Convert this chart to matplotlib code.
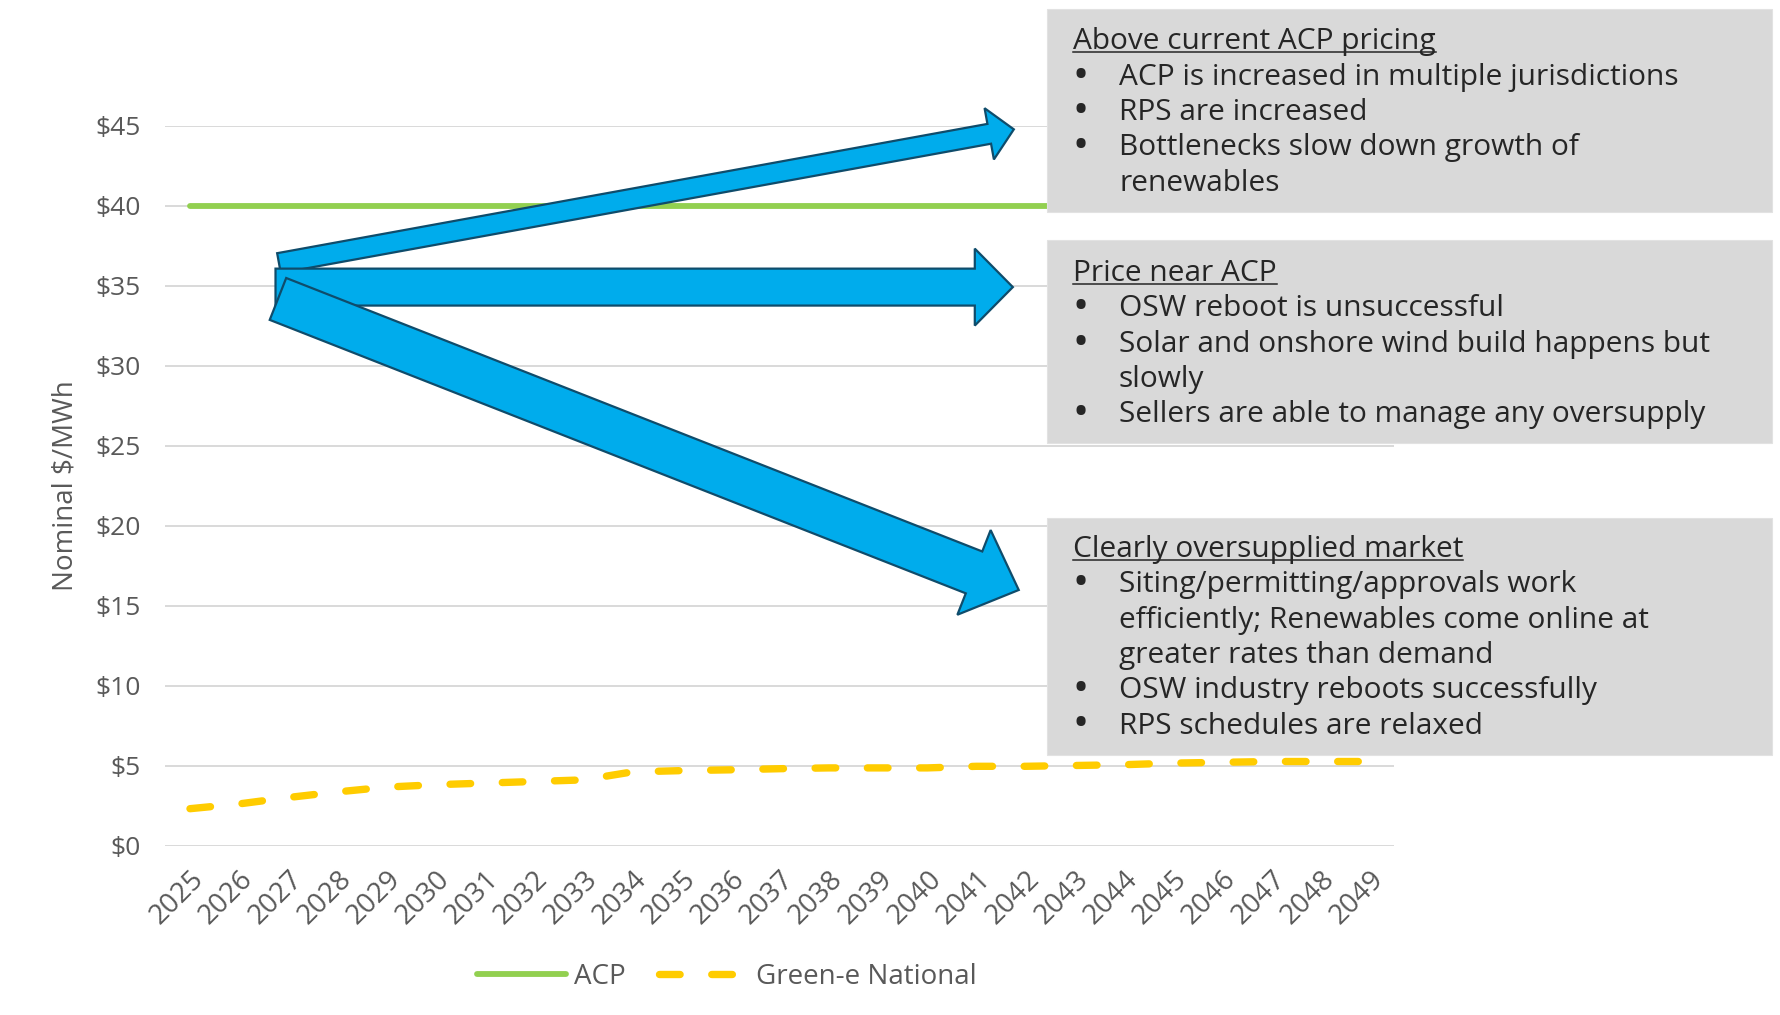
import numpy as np
import matplotlib
matplotlib.use("Agg")
import matplotlib.pyplot as plt
from matplotlib.patches import FancyArrowPatch, ArrowStyle, Rectangle
from matplotlib.lines import Line2D

plt.rcParams['font.family'] = ['Open Sans', 'DejaVu Sans']

# data
years = list(range(2025, 2050))
acp = [40] * 25
green_e = [2.3, 2.6, 3.0, 3.35, 3.65, 3.8, 3.9, 4.0, 4.1, 4.6, 4.68, 4.73, 4.8, 4.85, 4.85,
           4.85, 4.95, 4.95, 5.0, 5.05, 5.15, 5.2, 5.25, 5.25, 5.25]
y_ticks = [0, 5, 10, 15, 20, 25, 30, 35, 40, 45]
y_ticklabels = ['$' + str(v) for v in y_ticks]

# scenario arrows: (start index, start value, end index, end value)
arrows = [
    (1.81, 36.4, 16.76, 44.76),
    (1.74, 34.9, 16.74, 34.9),
    (1.79, 34.16, 16.86, 15.97),
]
# tail width, head width, head length (points)
arrow_sizes = [(14.5, 37.5, 18), (26.6, 55.4, 27.4), (32.4, 65.5, 34.6)]

boxes = [
    ("Above current ACP pricing",
     [(True, "ACP is increased in multiple jurisdictions"),
      (True, "RPS are increased"),
      (True, "Bottlenecks slow down growth of"),
      (False, "renewables")]),
    ("Price near ACP",
     [(True, "OSW reboot is unsuccessful"),
      (True, "Solar and onshore wind build happens but"),
      (False, "slowly"),
      (True, "Sellers are able to manage any oversupply")]),
    ("Clearly oversupplied market",
     [(True, "Siting/permitting/approvals work"),
      (False, "efficiently; Renewables come online at"),
      (False, "greater rates than demand"),
      (True, "OSW industry reboots successfully"),
      (True, "RPS schedules are relaxed")]),
]

W, H = 1780, 1015
fig = plt.figure(figsize=(W / 100, H / 100), dpi=100)
ax = fig.add_axes([165.4 / W, 1 - 845.5 / H, 1228.9 / W, 720 / H])

x = np.arange(len(years))
grey = '#595959'

ax.plot(x, acp, color='#92D050', lw=4.2, solid_capstyle='round', label='ACP', zorder=3)
ax.plot(x, green_e, color='#FFCC00', lw=5.3, linestyle=(0, (2.8, 4.3)),
        dash_capstyle='round', label='Green-e National', zorder=3)

ax.set_xlim(-0.5, len(years) - 0.5)
ax.set_ylim(0, 45)
ax.set_yticks(y_ticks)
ax.set_yticklabels(y_ticklabels)
ax.set_xticks(x)
ax.set_xticklabels([str(y) for y in years], rotation=45, ha='right', va='top',
                   rotation_mode='anchor')
ax.tick_params(axis='y', length=0, pad=18, labelsize=19, labelcolor=grey)
ax.tick_params(axis='x', length=0, pad=14, labelsize=20, labelcolor=grey)
ax.grid(axis='y', color='#D9D9D9', lw=1.4)
ax.set_axisbelow(True)
for s in ax.spines.values():
    s.set_visible(False)
ax.set_ylabel('Nominal $/MWh', fontsize=20, color=grey)
ax.yaxis.set_label_coords(-0.0695, 0.5)

for (x0, y0, x1, y1), (tw, hw, hl) in zip(arrows, arrow_sizes):
    a = FancyArrowPatch((x0, y0), (x1, y1),
                        arrowstyle=ArrowStyle.Simple(head_length=hl, head_width=hw, tail_width=tw),
                        mutation_scale=1, shrinkA=0, shrinkB=0, fc='#00ACEC', ec='#0F4C6B',
                        lw=1.6, joinstyle='miter', clip_on=False, zorder=5)
    ax.add_patch(a)

# text boxes (pixel layout, from top)
box_rects = [(1047, 9, 1772, 212), (1047, 240, 1772, 443), (1047, 518, 1772, 755)]
base0 = [49.5, 281, 557]
step = 35.3
fs = 21.5
txt_col = '#262626'
titles = []
for (title, lines), (l, t, r, b), y0 in zip(boxes, box_rects, base0):
    fig.patches.append(Rectangle((l / W, 1 - b / H), (r - l) / W, (b - t) / H,
                                 transform=fig.transFigure, fc='#D9D9D9', ec='#E2E2E2',
                                 lw=0.8, zorder=2))
    tt = fig.text(1073 / W, 1 - y0 / H, title, fontsize=fs, color=txt_col,
                  va='baseline', ha='left', zorder=3)
    titles.append((tt, y0))
    for i, (bullet, line) in enumerate(lines):
        yy = 1 - (y0 + step * (i + 1)) / H
        if bullet:
            fig.text(1074 / W, yy, '\u2022', fontsize=fs + 2, color=txt_col, va='baseline',
                     fontweight='bold', zorder=3)
        fig.text(1119 / W, yy, line, fontsize=fs, color=txt_col, va='baseline', zorder=3)

fig.legend(loc='center', bbox_to_anchor=(0.4084, 0.0374), ncol=2, frameon=False,
           fontsize=20, labelcolor=grey, handlelength=3.2, handletextpad=0.3,
           columnspacing=1.2)

# underline the box titles
fig.canvas.draw()
r = fig.canvas.get_renderer()
for tt, y0 in titles:
    bb = tt.get_window_extent(renderer=r)
    yl = 1 - (y0 + 2.5) / H
    fig.lines.append(Line2D([bb.x0 / W, bb.x1 / W], [yl, yl], transform=fig.transFigure,
                            color=txt_col, lw=1.1, zorder=3))

fig.savefig('out.png', dpi=100)
